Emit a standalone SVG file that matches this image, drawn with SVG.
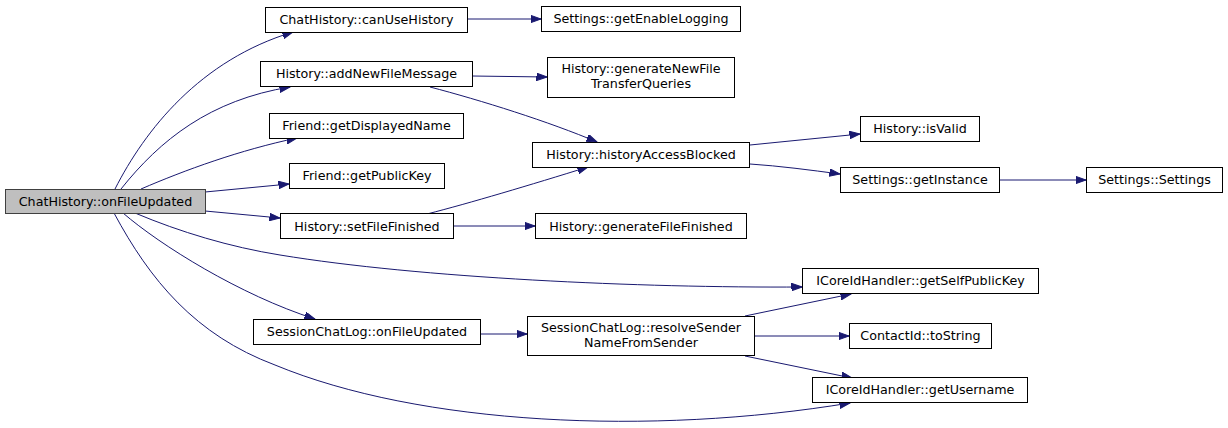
<svg xmlns="http://www.w3.org/2000/svg" width="1228" height="428" viewBox="0 0 1228 428">
<defs>
<marker id="ah" markerUnits="userSpaceOnUse" markerWidth="11" markerHeight="8" refX="10.5" refY="3.75" orient="auto">
<path d="M0,0 L10.5,3.75 L0,7.5 Z" fill="#191970" stroke="#191970" stroke-width="1"/>
</marker>
</defs>
<style>
.n rect{fill:#ffffff;stroke:#000000;stroke-width:1}
.n.root rect{fill:#bfbfbf;stroke:#404040}
.n text{font-family:"DejaVu Sans",sans-serif;font-size:12.7px;fill:#000000;text-anchor:middle}
.e path{fill:none;stroke:#191970;stroke-width:1;marker-end:url(#ah)}
</style>
<rect width="1228" height="428" fill="#ffffff"/>
<g id="edges" class="e">
<path d="M115,189 C145,130 200,60 293,32"/>
<path d="M121,189 C160,140 210,100 290,87"/>
<path d="M141,189 C185,170 240,150 297,138"/>
<path d="M205,192 L289,184"/>
<path d="M205,211 L280,218"/>
<path d="M135,213 C180,232 230,247 280,255 C420,278 640,288 802,287"/>
<path d="M123,213 C160,245 240,295 315,319"/>
<path d="M114,213 C150,280 195,335 275,365 C420,425 650,436 850,403"/>
<path d="M467,19 L541,19"/>
<path d="M472,76 L547,77"/>
<path d="M430,87 C480,100 550,122 597,142"/>
<path d="M427,214 C470,203 530,185 588,167"/>
<path d="M453,226 L535,226"/>
<path d="M480,334 L527,334"/>
<path d="M750,145 L860,134"/>
<path d="M750,164 C780,166 810,170 840,174"/>
<path d="M1000,180 L1086,180"/>
<path d="M745,316 L851,294"/>
<path d="M754,336 L849,336"/>
<path d="M745,356 L852,378"/>
</g>
<g id="n_root" class="n root"><rect x="5.5" y="189.5" width="200" height="24"/><text x="105.5" y="205.5">ChatHistory::onFileUpdated</text></g>
<g id="n_canUseHistory" class="n"><rect x="265.5" y="7.5" width="202" height="25"/><text x="366.5" y="24">ChatHistory::canUseHistory</text></g>
<g id="n_addNewFileMessage" class="n"><rect x="260.5" y="61.5" width="212" height="25"/><text x="366.5" y="78">History::addNewFileMessage</text></g>
<g id="n_getDisplayedName" class="n"><rect x="269.5" y="113.5" width="194" height="25"/><text x="366.5" y="130">Friend::getDisplayedName</text></g>
<g id="n_getPublicKey" class="n"><rect x="289.5" y="163.5" width="155" height="25"/><text x="367" y="180">Friend::getPublicKey</text></g>
<g id="n_setFileFinished" class="n"><rect x="280.5" y="213.5" width="173" height="25"/><text x="367" y="230.5">History::setFileFinished</text></g>
<g id="n_sclOnFileUpdated" class="n"><rect x="253.5" y="319.5" width="227" height="25"/><text x="367" y="336">SessionChatLog::onFileUpdated</text></g>
<g id="n_getEnableLogging" class="n"><rect x="541.5" y="6.5" width="199" height="25"/><text x="641" y="23">Settings::getEnableLogging</text></g>
<g id="n_generateNewFileTransferQueries" class="n"><rect x="547.5" y="57.5" width="187" height="40"/><text x="641" y="72.5">History::generateNewFile</text><text x="641" y="87.5">TransferQueries</text></g>
<g id="n_historyAccessBlocked" class="n"><rect x="532.5" y="142.5" width="217" height="25"/><text x="641" y="159">History::historyAccessBlocked</text></g>
<g id="n_generateFileFinished" class="n"><rect x="535.5" y="213.5" width="211" height="25"/><text x="641" y="230.5">History::generateFileFinished</text></g>
<g id="n_resolveSender" class="n"><rect x="527.5" y="316.5" width="227" height="39"/><text x="641" y="331.5">SessionChatLog::resolveSender</text><text x="641" y="346.5">NameFromSender</text></g>
<g id="n_isValid" class="n"><rect x="860.5" y="116.5" width="119" height="25"/><text x="920" y="133">History::isValid</text></g>
<g id="n_getInstance" class="n"><rect x="840.5" y="167.5" width="159" height="25"/><text x="920" y="184">Settings::getInstance</text></g>
<g id="n_Settings" class="n"><rect x="1086.5" y="167.5" width="136" height="25"/><text x="1154.5" y="184">Settings::Settings</text></g>
<g id="n_getSelfPublicKey" class="n"><rect x="802.5" y="268.5" width="236" height="25"/><text x="920.5" y="285">ICoreIdHandler::getSelfPublicKey</text></g>
<g id="n_toString" class="n"><rect x="849.5" y="323.5" width="142" height="25"/><text x="920.5" y="340">ContactId::toString</text></g>
<g id="n_getUsername" class="n"><rect x="812.5" y="377.5" width="215" height="25"/><text x="920" y="394">ICoreIdHandler::getUsername</text></g>
</svg>
